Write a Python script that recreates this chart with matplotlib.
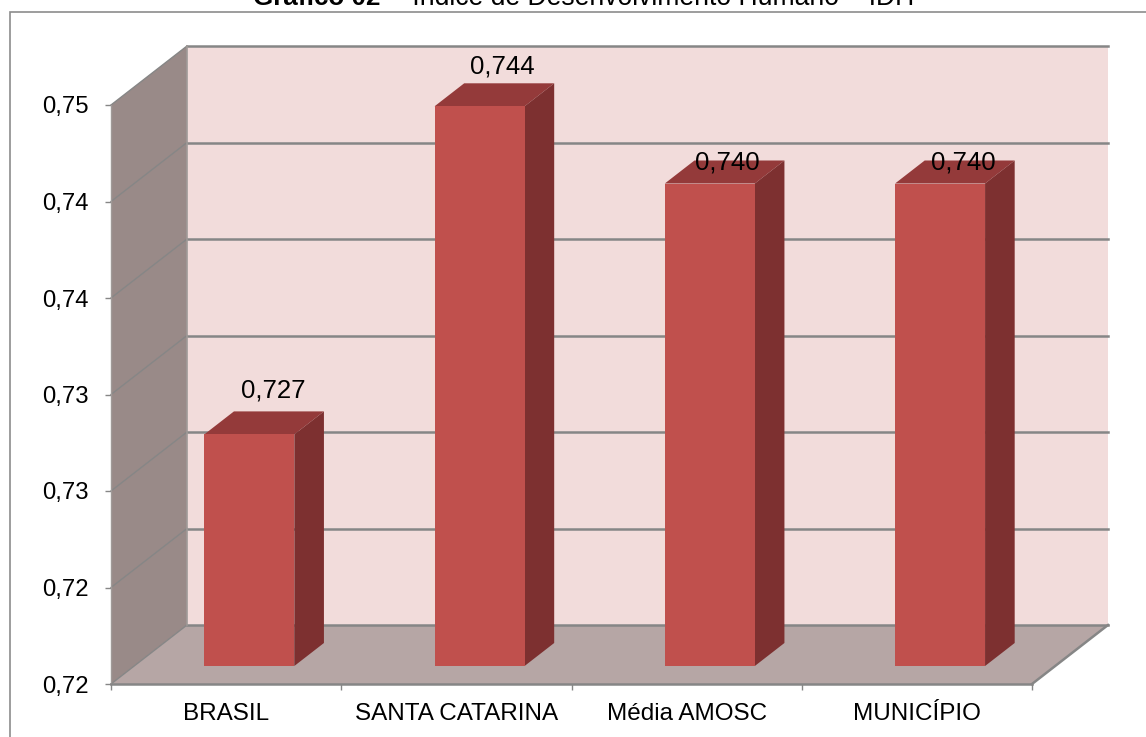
import matplotlib
matplotlib.use("Agg")
import matplotlib.pyplot as plt
from matplotlib.patches import Polygon, Rectangle

categories = ["BRASIL", "SANTA CATARINA", "Média AMOSC", "MUNICÍPIO"]
values = [0.727, 0.744, 0.740, 0.740]
value_labels = ["0,727", "0,744", "0,740", "0,740"]
y_ticks = [0.715, 0.720, 0.725, 0.730, 0.735, 0.740, 0.745]
y_labels = ["0,72", "0,72", "0,73", "0,73", "0,74", "0,74", "0,75"]

W, H = 1146, 737
plt.rcParams["font.family"] = ["Liberation Sans", "DejaVu Sans"]

fig = plt.figure(figsize=(W / 100, H / 100), dpi=100)
# frente do grafico em pixels: x 111-1032, y 105-684
ax = fig.add_axes([111 / W, 1 - 684 / H, (1032 - 111) / W, (684 - 105) / H])
ax.set_xlim(0, 4)
ax.set_ylim(0.715, 0.745)
ax.patch.set_visible(False)

# profundidade do 3D
px_x = 4 / (1032 - 111)
px_y = 0.03 / (684 - 105)
DX, DY = 76 * px_x, 59 * px_y


def depth(x, y, d):
    return (x + d * DX, y + d * DY)


def poly(points, color, z=1, edge="none", lw=0):
    ax.add_patch(Polygon(points, closed=True, facecolor=color, edgecolor=edge,
                         linewidth=lw, zorder=z, clip_on=False))


y0, y1 = y_ticks[0], y_ticks[-1]
grid = "#868686"

# parede do fundo, parede esquerda, piso
poly([depth(0, y0, 1), depth(4, y0, 1), depth(4, y1, 1), depth(0, y1, 1)], "#f2dcdb")
poly([depth(0, y0, 0), depth(0, y0, 1), depth(0, y1, 1), depth(0, y1, 0)], "#998a88")
poly([depth(0, y0, 0), depth(4, y0, 0), depth(4, y0, 1), depth(0, y0, 1)], "#b6a6a5")

for t in y_ticks:
    xs = [depth(0, t, 0)[0], depth(0, t, 1)[0], depth(4, t, 1)[0]]
    ys = [depth(0, t, 0)[1], depth(0, t, 1)[1], depth(4, t, 1)[1]]
    ax.plot(xs[:2], ys[:2], color=grid, lw=1.0, zorder=2, clip_on=False)
    ax.plot(xs[1:], ys[1:], color=grid, lw=1.8, zorder=2, clip_on=False)

ax.plot(*zip(depth(0, y0, 1), depth(0, y1, 1)), color="#a09a98", lw=1.2, zorder=2, clip_on=False)
ax.plot(*zip(depth(0, y0, 0), depth(0, y1, 0)), color="#a09a98", lw=1.0, zorder=2, clip_on=False)
ax.plot(*zip(depth(4, y0, 0), depth(4, y0, 1)), color=grid, lw=1.8, zorder=2, clip_on=False)

# barras
bar_w = 90 * px_x
d_front = 18 / 59
d_back = 41 / 59
for i, v in enumerate(values):
    left = i + 0.5 - bar_w / 2
    right = left + bar_w
    poly([depth(left, v, d_front), depth(right, v, d_front),
          depth(right, v, d_back), depth(left, v, d_back)], "#943a3a", 3)
    poly([depth(right, y0, d_front), depth(right, y0, d_back),
          depth(right, v, d_back), depth(right, v, d_front)], "#7d3030", 3)
    poly([depth(left, y0, d_front), depth(right, y0, d_front),
          depth(right, v, d_front), depth(left, v, d_front)], "#c0504d", 4)

# rotulos das barras (deslocamento em pixels a partir do topo)
label_off = [(24, 44), (23, 40), (18, 21), (23, 21)]
for i, v in enumerate(values):
    x, y = depth(i + 0.5, v, d_front)
    ax.annotate(value_labels[i], (x, y),
                xytext=(label_off[i][0] * 0.72, label_off[i][1] * 0.72),
                textcoords="offset points", ha="center", va="center",
                fontsize=18.6, color="black", zorder=6, annotation_clip=False)

# eixos
for s in ["top", "right"]:
    ax.spines[s].set_visible(False)
ax.spines["left"].set_visible(False)
ax.spines["bottom"].set_color(grid)
ax.spines["bottom"].set_linewidth(1.8)
ax.spines["bottom"].set_zorder(5)
ax.set_yticks(y_ticks)
ax.set_yticklabels(y_labels, fontsize=17.2)
ax.set_xticks([0, 1, 2, 3, 4])
ax.set_xticklabels([])
ax.tick_params(axis="y", length=4, width=1, color=grid, pad=12, labelcolor="black")
ax.tick_params(axis="x", length=4.5, width=1, color=grid)
for i, c in enumerate(categories):
    ax.annotate(c, (i + 0.5, y0), xytext=(0, -29.5 * 0.72), textcoords="offset points",
                ha="center", va="center", fontsize=17.5, color="black",
                annotation_clip=False)

# moldura externa
fig.add_artist(Rectangle((9.5 / W, -0.05), 1.2, 1 - 11.5 / H + 0.05, transform=fig.transFigure,
                         facecolor="none", edgecolor="#8c8c8c", linewidth=1.2, zorder=0))

# titulo cortado no topo
fig.text(253 / W, 1 - 5 / H, "Gráfico 02", fontsize=18.7, fontweight="bold",
         ha="left", va="baseline")
fig.text(390 / W, 1 - 5 / H, "– Índice de Desenvolvimento Humano – IDH", fontsize=19.1,
         ha="left", va="baseline")

fig.savefig("out.png", dpi=100, facecolor="white")
